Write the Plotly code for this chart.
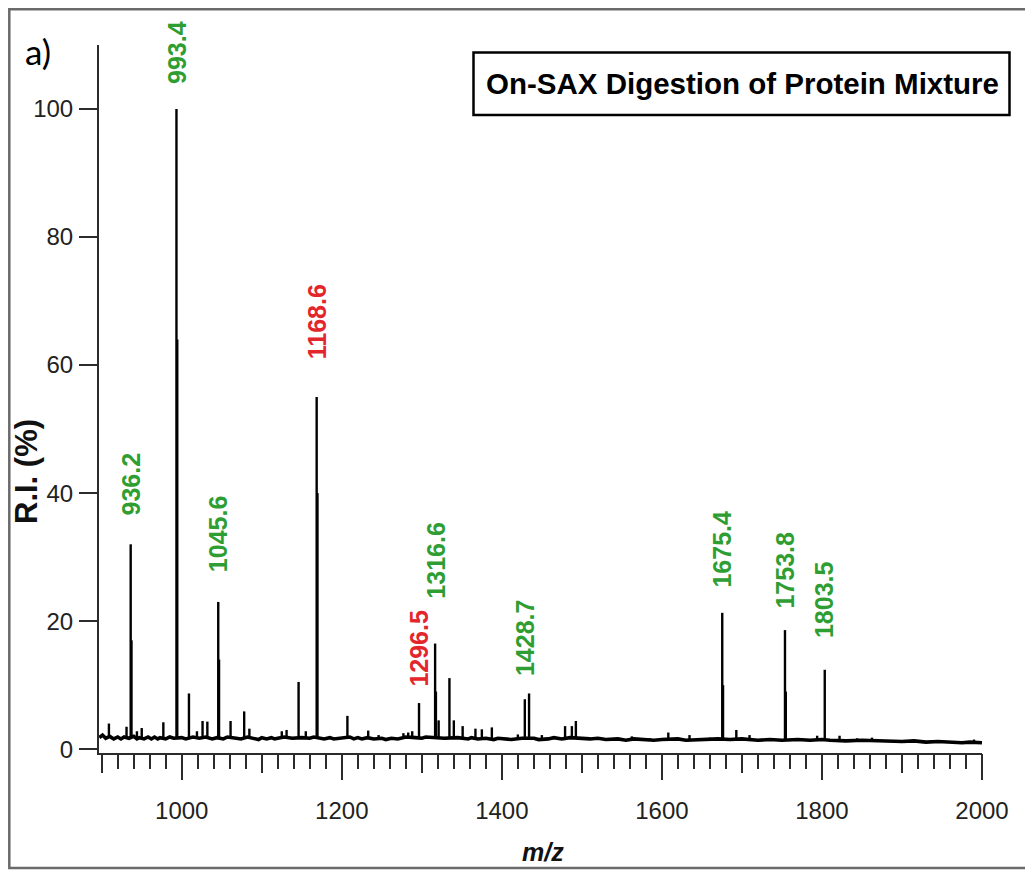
import plotly.graph_objects as go

# ---------------- data ----------------
# labelled peaks (m/z, relative intensity %)
label_mz = [936.2, 993.4, 1045.6, 1168.6, 1296.5, 1316.6, 1428.7, 1675.4, 1753.8, 1803.5]
label_int = [32.0, 100.0, 23.0, 55.0, 7.2, 16.5, 7.8, 21.3, 18.6, 12.4]
label_kind = ["g", "g", "g", "r", "r", "g", "g", "g", "g", "g"]

# isotope / shoulder peaks next to the main ones
iso_mz = [937.2, 994.4, 1046.6, 1169.6, 1317.6, 1434.0, 1676.4, 1754.8]
iso_int = [17.0, 64.0, 14.0, 40.0, 9.0, 8.7, 10.0, 9.0]

# small peaks
small_mz = [909, 931, 944, 950, 977, 1009, 1019, 1026, 1032, 1061, 1078, 1084.5,
            1125, 1131, 1146, 1155, 1207, 1233, 1246, 1277, 1283, 1288, 1321,
            1334.5, 1340, 1351, 1367, 1375, 1387.5, 1420, 1450, 1479, 1487.5,
            1492.5, 1519, 1562.5, 1585, 1608, 1634.5, 1660, 1693, 1709.5, 1794,
            1822, 1844, 1862.5, 1990]
small_int = [4.0, 3.5, 2.8, 3.3, 4.2, 8.7, 2.8, 4.4, 4.3, 4.4, 5.9, 3.2,
             2.8, 3.0, 10.5, 2.8, 5.2, 2.9, 2.2, 2.5, 2.6, 2.8, 4.5,
             11.1, 4.5, 3.6, 3.2, 3.1, 3.4, 2.3, 2.2, 3.6, 3.6,
             4.4, 1.9, 2.0, 1.7, 2.6, 2.2, 1.8, 3.0, 2.2, 2.1,
             2.1, 1.7, 1.8, 1.5]

# noisy baseline
base_mz = [897, 901, 905, 910, 915, 920, 924, 928, 934, 940, 944, 947, 953,
           958, 962, 966, 970, 973, 980, 985, 990, 1000, 1005, 1014, 1022,
           1030, 1038, 1044, 1052, 1057, 1068, 1074, 1082, 1090, 1096, 1100,
           1106, 1112, 1116, 1120, 1128, 1138, 1150, 1160, 1165, 1178, 1185,
           1190, 1200, 1210, 1215, 1220, 1225, 1232, 1240, 1250, 1255, 1262,
           1270, 1280, 1292, 1300, 1305, 1312, 1328, 1345, 1358, 1362, 1370,
           1380, 1390, 1395, 1405, 1412, 1425, 1440, 1446, 1458, 1465, 1475,
           1485, 1500, 1510, 1520, 1530, 1545, 1555, 1565, 1575, 1590, 1600,
           1620, 1630, 1645, 1655, 1670, 1685, 1700, 1720, 1735, 1750, 1770,
           1785, 1800, 1810, 1830, 1850, 1870, 1885, 1900, 1915, 1930, 1945,
           1960, 1975, 1985, 1995, 2000]
base_int = [1.8, 2.2, 1.7, 2.0, 1.6, 1.9, 1.6, 1.9, 1.7, 2.0, 1.6, 1.8, 1.6,
            1.9, 1.6, 1.9, 1.6, 1.8, 1.6, 1.9, 1.7, 1.8, 1.6, 1.9, 1.7,
            1.9, 1.6, 1.8, 1.6, 1.9, 1.7, 1.6, 1.9, 1.7, 1.5, 1.8,
            1.6, 1.8, 1.6, 1.7, 1.9, 1.7, 1.8, 1.7, 1.9, 1.6, 1.8,
            1.6, 1.7, 1.9, 1.6, 1.8, 1.6, 1.8, 1.6, 1.7, 1.5, 1.7,
            1.6, 1.9, 1.8, 1.7, 1.9, 1.8, 1.7, 1.8, 1.6, 1.8, 1.6,
            1.7, 1.5, 1.7, 1.6, 1.5, 1.7, 1.7, 1.5, 1.6, 1.8, 1.6,
            1.8, 1.7, 1.6, 1.7, 1.5, 1.6, 1.4, 1.6, 1.5, 1.4, 1.5,
            1.6, 1.4, 1.5, 1.6, 1.6, 1.5, 1.6, 1.4, 1.5, 1.4, 1.5,
            1.4, 1.5, 1.4, 1.3, 1.4, 1.3, 1.2, 1.2, 1.3, 1.1, 1.2,
            1.1, 1.0, 1.1, 1.0, 1.0]

x_ticks_major = [1000, 1200, 1400, 1600, 1800, 2000]
y_ticks = [0, 20, 40, 60, 80, 100]

# ---------------- styles / layout ----------------
OFF = 8                      # page body margin
W, H = 1033 - OFF, 870 - OFF
ML, MT = 99 - OFF, 45 - OFF
PW, PH = 883, 708
MR, MB = W - ML - PW, H - MT - PH
X_RANGE = [896.6, 2000]
Y_RANGE = [-0.6, 110]
AX = "#2b2b2b"
GREEN = "#2f9e32"
RED = "#e3262b"
SANS = "Liberation Sans, Arial, sans-serif"
LABEL_SHIFT = {936.2: 27, 993.4: 23, 1045.6: 28, 1168.6: 36, 1296.5: 14,
               1316.6: 43, 1428.7: 21, 1675.4: 23, 1753.8: 20, 1803.5: 30}


def px(x):
    """screen x (reference pixels) -> paper coordinate"""
    return (x - OFF - ML) / PW


def py(y):
    """screen y (reference pixels) -> paper coordinate"""
    return (MT + PH - (y - OFF)) / PH


def nearest_base(m):
    i = min(range(len(base_mz)), key=lambda k: abs(base_mz[k] - m))
    return base_int[i]


stick_x, stick_y = [], []
for m, h in zip(label_mz + iso_mz + small_mz, label_int + iso_int + small_int):
    stick_x += [m, m, None]
    stick_y += [nearest_base(m), h, None]

fig = go.Figure()
fig.add_trace(go.Scatter(x=base_mz, y=base_int, mode="lines", xaxis="x2",
                         line=dict(color="black", width=3.6), hoverinfo="skip",
                         showlegend=False))
fig.add_trace(go.Scatter(x=stick_x, y=stick_y, mode="lines",
                         line=dict(color="black", width=2.4), hoverinfo="skip",
                         showlegend=False))

annotations = []
for m, h, k in zip(label_mz, label_int, label_kind):
    annotations.append(dict(
        x=m, y=h, xref="x", yref="y", text="<b>%s</b>" % m, showarrow=False,
        textangle=-90, xanchor="center", yanchor="bottom",
        yshift=LABEL_SHIFT[m],
        font=dict(family=SANS, size=25, color=GREEN if k == "g" else RED)))

annotations += [
    dict(x=px(742), y=py(84), xref="paper", yref="paper",
         text="<b>On-SAX Digestion of Protein Mixture</b>", showarrow=False,
         xanchor="center", yanchor="middle",
         font=dict(family=SANS, size=29.5, color="black")),
    dict(x=px(38), y=py(51), xref="paper", yref="paper", text="a)",
         showarrow=False, xanchor="center", yanchor="middle",
         font=dict(family="Lato, Open Sans, sans-serif", size=35, color="black")),
    dict(x=px(543), y=py(852), xref="paper", yref="paper", text="<b><i>m/z</i></b>",
         showarrow=False, xanchor="center", yanchor="middle",
         font=dict(family=SANS, size=25, color="#111")),
    dict(x=px(26), y=py(472), xref="paper", yref="paper", text="<b>R.I. (%)</b>",
         showarrow=False, xanchor="center", yanchor="middle", textangle=-90,
         font=dict(family=SANS, size=31, color="#111")),
]

shapes = [
    dict(type="rect", xref="paper", yref="paper", x0=px(9.3), x1=px(1045),
         y0=py(868), y1=py(9.3), line=dict(color="#6a6a6a", width=2.5),
         layer="below"),
    dict(type="rect", xref="paper", yref="paper", x0=px(473.5), x1=px(1009.5),
         y0=py(115), y1=py(52.5), line=dict(color="black", width=2.5),
         fillcolor="white"),
]

tickfont = dict(family=SANS, size=24, color="#222")

fig.update_layout(
    width=W, height=H,
    margin=dict(l=ML, r=MR, t=MT, b=MB, autoexpand=False),
    paper_bgcolor="white", plot_bgcolor="white",
    xaxis=dict(range=X_RANGE, showgrid=False, zeroline=False, showline=True,
               linecolor=AX, linewidth=2, ticks="outside", tickvals=x_ticks_major,
               ticklen=25, tickwidth=2, tickcolor=AX, tickfont=tickfont,
               ticklabelstandoff=10,
               minor=dict(dtick=20, tick0=900, ticks="outside", ticklen=14,
                          tickwidth=2, tickcolor=AX, showgrid=False),
               automargin=False),
    xaxis2=dict(range=X_RANGE, overlaying="x", anchor="y", side="bottom",
                showgrid=False, zeroline=False, showline=False,
                ticks="outside", dtick=100, tick0=900, ticklen=19, tickwidth=2,
                tickcolor=AX, showticklabels=False, automargin=False),
    yaxis=dict(range=Y_RANGE, showgrid=False, zeroline=False, showline=True,
               linecolor=AX, linewidth=2, ticks="outside", tickvals=y_ticks,
               ticklen=18, tickwidth=2, tickcolor=AX, tickfont=tickfont,
               ticklabelstandoff=1, automargin=False),
    annotations=annotations,
    shapes=shapes,
)

fig.write_html("out.html")
